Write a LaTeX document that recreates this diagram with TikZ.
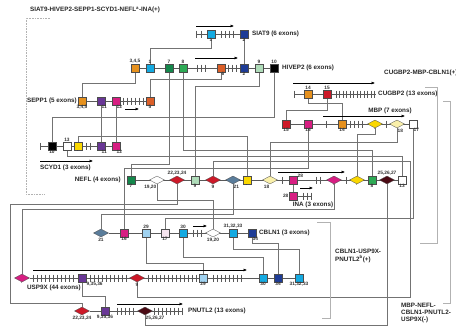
\documentclass[tikz,border=0pt]{standalone}
\usepackage{fontspec}
\setmainfont{Liberation Sans}
\usepackage{tikz}
\usetikzlibrary{positioning,arrows.meta,shapes.geometric,backgrounds}
\definecolor{ccyan}{RGB}{20,170,225}
\definecolor{cnavy}{RGB}{30,60,150}
\definecolor{corange}{RGB}{230,145,30}
\definecolor{cored}{RGB}{220,95,40}
\definecolor{cdgreen}{RGB}{20,135,75}
\definecolor{cgreen}{RGB}{45,170,85}
\definecolor{clgreen}{RGB}{175,220,185}
\definecolor{cpurple}{RGB}{105,55,150}
\definecolor{cmag}{RGB}{215,30,130}
\definecolor{cred}{RGB}{205,25,40}
\definecolor{cyel}{RGB}{250,215,0}
\definecolor{cltyel}{RGB}{250,240,170}
\definecolor{clblue}{RGB}{160,210,240}
\definecolor{clpink}{RGB}{245,228,238}
\definecolor{csteel}{RGB}{90,125,155}
\definecolor{cmaroon}{RGB}{75,10,20}

\begin{document}
\begin{tikzpicture}[x=1pt,y=-1pt,
  box/.style={draw=black!70,line width=0.3pt,minimum size=7.5pt,inner sep=0pt},
  dia/.style={diamond,draw=black!70,line width=0.3pt,minimum width=15pt,minimum height=8pt,inner sep=0pt},
  num/.style={font=\fontsize{4.8}{5}\selectfont\bfseries,inner sep=0.5pt,text=black!80},
  gname/.style={font=\fontsize{6.3}{7.2}\selectfont\bfseries,inner sep=1pt,text=black!85},
  gene/.style={black!65,line width=0.6pt},
  tk/.style={black!65,line width=0.45pt},
  link/.style={black!55,line width=0.55pt},
  brk/.style={black!30,line width=0.6pt},
  dir/.style={black,line width=0.5pt,-{Latex[length=3.5pt,width=3pt]}}]
  \useasboundingbox (0,0) rectangle (456,327);

  % group titles
  \node[gname,anchor=west] (title) at (29,10) {SIAT9-HIVEP2-SEPP1-SCYD1-NEFL\textsuperscript{a}-INA(+)};
  \node[gname,anchor=west] (grpB) at (383,73) {CUGBP2-MBP-CBLN1(+)};
  \node[gname,anchor=west,align=left] (grpD) at (334,256) {CBLN1-USP9X-\\PNUTL2\textsuperscript{b}(+)};
  \node[gname,anchor=west,align=left] (grpC) at (400,313) {MBP-NEFL-\\CBLN1-PNUTL2-\\USP9X(-)};

  % SIAT9 row
  \coordinate (s0) at (196,34);
  \node[box,fill=ccyan] (s1) at (211,34) {};
  \node[box,fill=cnavy] (s2) at (244,34) {};
  \node[gname,anchor=west] (siat9) at (251,34) {SIAT9 (6 exons)};

  % HIVEP2 row
  \node[box,fill=corange] (h345) at (135,68) {};
  \node[box,fill=ccyan] (h1) at (150,68) {};
  \node[box,fill=cdgreen] (h7) at (169,68) {};
  \node[box,fill=cgreen] (h8) at (183,68) {};
  \node[box,fill=cored] (h6) at (221,68) {};
  \node[box,fill=cnavy] (h2) at (244,68) {};
  \node[box,fill=clgreen] (h9) at (259,68) {};
  \node[box,fill=black] (h10) at (274,68) {};
  \node[gname,anchor=west] (hivep2) at (281,68) {HIVEP2 (6 exons)};

  % SEPP1 row
  \node[gname,anchor=east] (sepp1) at (78,101) {SEPP1 (5 exons)};
  \node[box,fill=corange] (p345) at (82,101) {};
  \node[box,fill=cpurple] (p11) at (101,101) {};
  \node[box,fill=cmag] (p12) at (116,101) {};
  \node[box,fill=cored] (p5) at (150,101) {};

  % SCYD1 row
  \coordinate (c0) at (40,146);
  \node[box,fill=black] (c10) at (52,146) {};
  \node[box,fill=white] (c13) at (67,146) {};
  \node[box,fill=cyel] (cy) at (78,146) {};
  \node[box,fill=cpurple] (c11) at (101,146) {};
  \node[box,fill=cmag] (c12) at (116,146) {};
  \node[gname,anchor=west] (scyd1) at (39,168) {SCYD1 (3 exons)};

  % CUGBP2 row
  \coordinate (g0) at (294,94);
  \coordinate (g1) at (376,94);
  \node[box,fill=corange] (g14) at (308,94) {};
  \node[box,fill=cred] (g15) at (327,94) {};
  \node[gname,anchor=west] (cugbp2) at (377,94) {CUGBP2 (13 exons)};

  % MBP row
  \node[box,fill=cred] (m15) at (286,124) {};
  \node[box,fill=cmag] (m16) at (308,124) {};
  \node[box,fill=corange] (m14) at (342,124) {};
  \node[dia,fill=cyel] (myd) at (375,124) {};
  \node[dia,fill=cltyel] (m18) at (397,124) {};
  \node[box,fill=white] (m17) at (413,124) {};
  \node[gname] (mbp) at (390,111) {MBP (7 exons)};

  % NEFL row
  \node[gname,anchor=east] (nefl) at (122,180) {NEFL (4 exons)};
  \node[box,fill=cdgreen] (n7) at (131,180) {};
  \node[dia,fill=white] (n1920) at (157,180) {};
  \node[dia,fill=cred] (n222324) at (177,180) {};
  \node[box,fill=clgreen] (n9b) at (195,180) {};
  \node[dia,fill=cred] (n9d) at (213,180) {};
  \node[dia,fill=csteel] (n21) at (233,180) {};
  \node[box,fill=cyel] (ny) at (247,180) {};
  \node[dia,fill=cltyel] (n18) at (270,180) {};
  \node[box,fill=cmag] (n28) at (293,180) {};
  \node[dia,fill=cmag] (nm) at (334,180) {};
  \node[dia,fill=cyel] (nyd) at (357,180) {};
  \node[box,fill=cgreen] (n8) at (372,180) {};
  \node[dia,fill=cmaroon] (n252627) at (387,180) {};
  \node[box,fill=white] (n13) at (402,180) {};

  % INA row
  \node[box,fill=cmag] (i28) at (293,196) {};
  \coordinate (i1) at (311,196);
  \node[gname] (ina) at (313,205) {INA (3 exons)};

  % CBLN1 row
  \node[dia,fill=csteel] (b21) at (101,233) {};
  \node[box,fill=cmag] (b16) at (124,233) {};
  \node[box,fill=clblue] (b29) at (146,233) {};
  \node[box,fill=clpink] (b17) at (165,233) {};
  \node[box,fill=ccyan] (b30) at (183,233) {};
  \node[dia,fill=white] (b1920) at (213,233) {};
  \node[box,fill=ccyan] (b313233) at (233,233) {};
  \node[box,fill=cnavy] (b34) at (252,233) {};
  \node[gname,anchor=west] (cbln1) at (258,233) {CBLN1 (3 exons)};

  % USP9X row
  \node[dia,fill=cmag] (um) at (22,278) {};
  \node[box,fill=cpurple] (u93536) at (82,278) {};
  \node[dia,fill=cred] (u9) at (137,278) {};
  \node[box,fill=clblue] (u29) at (203,278) {};
  \node[box,fill=ccyan] (u30) at (263,278) {};
  \node[box,fill=cnavy] (u34) at (278,278) {};
  \node[box,fill=ccyan] (u313233) at (299,278) {};
  \node[gname,anchor=west] (usp9x) at (26,288) {USP9X (44 exons)};

  % PNUTL2 row
  \node[dia,fill=cred] (q222324) at (82,311) {};
  \node[box,fill=cpurple] (q93536) at (105,311) {};
  \node[dia,fill=cmaroon] (q252627) at (145,311) {};
  \coordinate (q1) at (182,311);
  \node[gname,anchor=west] (pnutl2) at (187,311) {PNUTL2 (13 exons)};

  % exon numbers
  \foreach \nd/\pa/\pb/\lab in {
    s1/south/north/1, s2/south/north/2,
    h345/north/south/{3,4,5}, h1/north/south/1, h7/north/south/7, h8/north/south/8,
    h6/south/north west/6, h2/south/north/2, h9/north/south/9, h10/north/south/10,
    p345/south/north/{3,4,5}, p11/south/north west/11, p12/south/north west/12, p5/south/north/5,
    c10/south/north/10, c13/north/south/13, cy/south/north/·, c11/south/north west/11, c12/south/north west/12,
    n7/south/north/7, n1920/south/north east/{19,20}, n222324/north/south/{22,23,24},
    n9b/south/north/9, n9d/south/north/9, n21/south/north west/21, ny/south/north/·,
    n18/south/north east/18, n28/north east/west/28, nm/south/north/·, nyd/south/north/·,
    n8/south/north/8, n252627/north/south/{25,26,27}, n13/south/north/13,
    i28/west/east/28,
    g14/north/south/14, g15/north/south/15,
    m15/south/north/15, m16/south/north/16, m14/south/north/14, myd/south/north/·,
    m18/south/north west/18, m17/south/north west/17,
    b21/south/north/21, b16/south/north/16, b29/north/south/29, b17/south/north/17,
    b30/north/south/30, b1920/south/north/{19,20}, b313233/north/south/{31,32,33}, b34/south/north west/34,
    um/south/north/·, u93536/south east/north west/{9,35,36}, u9/south/north/9, u29/south/north/29,
    u30/south/north/30, u34/south/north/34, u313233/south/north/{31,32,33},
    q222324/south/north/{22,23,24}, q93536/south/north/{9,35,36}, q252627/south/north west/{25,26,27}}
    \node[num,anchor=\pb] (\nd-n) at (\nd.\pa) {\lab};

  % transcription direction
  \draw[dir] (196,26) -- (234,26);
  \draw[dir] (195,58) -- (238,58);
  \draw[dir] (125,109) -- (139,109);
  \draw[dir] (40,161) -- (93,161);
  \draw[dir] (293,83) -- (375,83);
  \draw[dir] (323,116) -- (405,116);
  \draw[dir] (278,172) -- (345,172);
  \draw[dir] (300,188) -- (313,188);
  \draw[dir] (193,226) -- (207,226);
  \draw[dir] (33,270) -- (247,270);
  \draw[dir] (117,304) -- (183,304);

  \coordinate (kL) at (10,204);
  \coordinate (kR) at (410,161);

  \begin{pgfonlayer}{background}
    % gene lines
    \draw[gene] (s0) -- (s2);
    \draw[gene] (h345) -- (h10);
    \draw[gene] (p345) -- (p5);
    \draw[gene] (c0) -- (c12);
    \draw[gene] (g0) -- (g1);
    \draw[gene] (m15) -- (m17);
    \draw[gene] (n7) -- (n13);
    \draw[gene] (i28) -- (i1);
    \draw[gene] (b21) -- (b34);
    \draw[gene] (um) -- (u313233);
    \draw[gene] (q222324) -- (q1);
    % introns
    \foreach \x in {196,201,221,225,229,233} \draw[tk] (\x,30.5) -- (\x,37.5);
    \foreach \x in {197,201,205,228,232,236} \draw[tk] (\x,64.5) -- (\x,71.5);
    \foreach \x in {123,127,...,143} \draw[tk] (\x,97.5) -- (\x,104.5);
    \foreach \x in {40,86,90} \draw[tk] (\x,142.5) -- (\x,149.5);
    \foreach \x in {294,336,339.5,...,376} \draw[tk] (\x,90.5) -- (\x,97.5);
    \foreach \x in {326,350,354,358,362,386} \draw[tk] (\x,120.5) -- (\x,127.5);
    \foreach \x in {282,316,320,346} \draw[tk] (\x,176.5) -- (\x,183.5);
    \foreach \x in {303,307,311} \draw[tk] (\x,192.5) -- (\x,199.5);
    \foreach \x in {193,197,201} \draw[tk] (\x,229.5) -- (\x,236.5);
    \foreach \x in {33,37,...,73,90,94,...,126,148,152,...,196,213,217,...,241} \draw[tk] (\x,274.5) -- (\x,281.5);
    \foreach \x in {117,121,...,133,154,158,...,182} \draw[tk] (\x,307.5) -- (\x,314.5);
    % exon links
    \draw[link] (h1) -- (h1 |- 0,48) -| (s1);
    \draw[link] (s2) -- (h2);
    \draw[link] (h345) -- (h345 |- 0,83) -| (p345);
    \draw[link] (h6) -- (h6 |- 0,79) -| (p5);
    \draw[link] (h7) -- (h7 |- 0,164) -| (n7);
    \draw[link] (h8) -- (h8 |- 0,150) -| (n8);
    \draw[link] (h9) -- (h9 |- 0,86) -| (n9b);
    \draw[link] (h10) -- (h10 |- 0,117) -| (c10);
    \draw[link] (p11) -- (c11);
    \draw[link] (p12) -- (c12);
    \draw[link] (c13) -- (c13 |- 0,156) -| (n13);
    \draw[link] (cy) -- (cy |- 0,136) -| (ny);
    \draw[link] (g14) -- (g14 |- 0,103) -| (m14);
    \draw[link] (g15) -- (g15 |- 0,110) -| (m15);
    \draw[link] (m16) -- (m16 |- 0,168) -| (b16);
    \draw[link] (myd) -- (myd |- 0,134) -| (nyd);
    \draw[link] (m18) -- (m18 |- 0,142) -| (n18);
    \draw[link] (m17) -- (m17 |- 0,218) -| (b17);
    \draw[link] (n1920) -- (n1920 |- 0,200) -| (b1920);
    \draw[link] (n222324) |- (kL) -- (kL |- 0,303) -| (q222324);
    \draw[link] (n9d) |- (kR) -- (kR |- 0,297) -| (u9);
    \draw[link] (n21) -- (n21 |- 0,214) -| (b21);
    \draw[link] (n28) -- (i28);
    \draw[link] (nm) -- (nm |- 0,209) -| (um);
    \draw[link] (n252627) -- (n252627 |- 0,325) -| (q252627);
    \draw[link] (b29) -- (b29 |- 0,263) -| (u29);
    \draw[link] (b30) -- (b30 |- 0,257) -| (u30);
    \draw[link] (b34) -- (b34 |- 0,243) -| (u34);
    \draw[link] (b313233) -- (b313233 |- 0,249) -| (u313233);
    \draw[link] (u93536) -- (u93536 |- 0,296) -| (q93536);
    % group brackets
    \draw[brk,densely dotted] (50,18) -- (26,18) -- (26,194) -- (45,194);
    \draw[brk] (425,87) -- (437,87) -- (437,243) -- (420,243);
    \draw[brk] (443,101) -- (450,101) -- (450,303) -- (443,303);
    \draw[brk] (317,222) -- (330,222) -- (330,318) -- (322,318);
  \end{pgfonlayer}
\end{tikzpicture}
\end{document}
